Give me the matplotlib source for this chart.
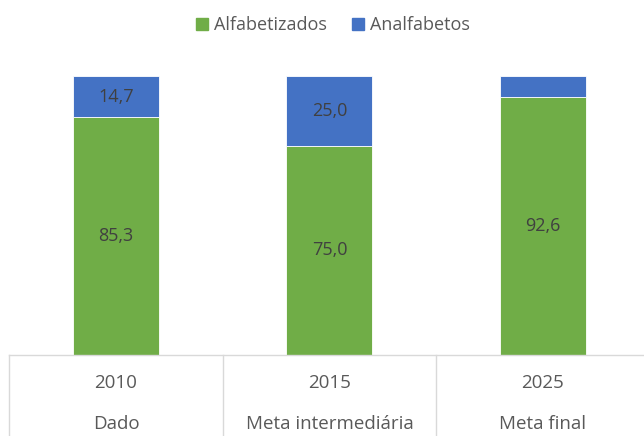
import matplotlib.pyplot as plt
from matplotlib.lines import Line2D
from matplotlib.patches import Patch

years = ["2010", "2015", "2025"]
kinds = ["Dado", "Meta intermediária", "Meta final"]
alfabetizados = [85.3, 75.0, 92.6]
analfabetos = [14.7, 25.0, 7.4]
show_blue_label = [True, True, False]

green = "#70AD47"
blue = "#4472C4"
grey_text = "#595959"
plt.rcParams['font.family'] = ['Open Sans', 'DejaVu Sans']

fig = plt.figure(figsize=(6.44, 4.36), dpi=100)
ax = fig.add_axes([0.01436, 0.1858, 0.9945, 0.6399])

x = list(range(len(years)))
width = 0.403
ax.bar(x, alfabetizados, width, color=green, edgecolor="white", linewidth=0.6)
ax.bar(x, analfabetos, width, bottom=alfabetizados, color=blue, edgecolor="white", linewidth=0.6)

for i in x:
    ax.text(i, alfabetizados[i] / 2, f"{alfabetizados[i]:.1f}".replace(".", ","),
            ha="center", va="center", fontsize=13, color="#404040")
    if show_blue_label[i]:
        ax.text(i, alfabetizados[i] + analfabetos[i] / 2, f"{analfabetos[i]:.1f}".replace(".", ","),
                ha="center", va="center", fontsize=13, color="#404040")

ax.set_xlim(-0.5, len(years) - 0.5)
ax.set_ylim(0, 100)
ax.axis("off")

# table-like category axis
line_col = "#d9d9d9"
ax.plot([-0.5, len(years) - 0.5], [0, 0], color=line_col, lw=1, clip_on=False)
for b in [-0.5 + k for k in range(len(years) + 1)]:
    ax.add_line(Line2D([b, b], [0, -30], color=line_col, lw=1, clip_on=False))
for i in x:
    ax.text(i, -10.1, years[i], ha="center", va="center", fontsize=13.5, color=grey_text)
    ax.text(i, -24.6, kinds[i], ha="center", va="center", fontsize=13.5, color=grey_text)

handles = [Patch(color=green, label="Alfabetizados"), Patch(color=blue, label="Analfabetos")]
leg = fig.legend(handles=handles, loc="center", bbox_to_anchor=(333 / 644, 1 - 25 / 436),
                 ncol=2, frameon=False, fontsize=13, handlelength=0.65, handleheight=0.65,
                 handletextpad=0.35, columnspacing=1.4)
for t in leg.get_texts():
    t.set_color(grey_text)

fig.savefig("out.png", dpi=100)
